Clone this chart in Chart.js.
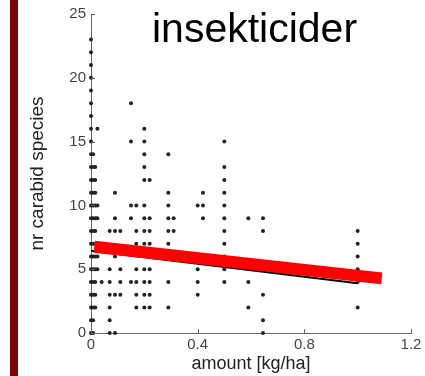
<!DOCTYPE html>
<html>
<head>
<meta charset="utf-8">
<script src="https://cdn.jsdelivr.net/npm/chart.js@4/dist/chart.umd.min.js"></script>
<style>
    body { margin: 0; background: #fff; }
    #wrap { position: relative; width: 425px; height: 376px; }
    #sideBar { position: absolute; left: 10px; top: 0; width: 8px; height: 376px; background: #7d0505; }
    canvas { position: absolute; left: 0; top: 0; }
</style>
</head>
<body>
<div id="wrap">
    <canvas id="chart" width="425" height="376"></canvas>
    <div id="sideBar"></div>
</div>
<script>
// Amount levels (kg/ha) and the species counts found at each level
const amountLevels = [0, 0.008, 0.016, 0.024, 0.04, 0.07, 0.09, 0.11, 0.15, 0.17, 0.2, 0.22, 0.29, 0.31, 0.4, 0.42, 0.5, 0.59, 0.645, 1.0];
const speciesAtLevel = [
    [0, 1, 2, 3, 4, 5, 6, 7, 8, 9, 10, 11, 12, 13, 14, 15, 16, 17, 18, 19, 20, 21, 22, 23],
    [0, 1, 2, 3, 4, 5, 6, 7, 8, 9, 10, 11, 12, 13, 14],
    [2, 3, 4, 5, 6, 8, 9, 10, 11, 12, 13],
    [5, 6, 9, 10, 16],
    [4],
    [0, 1, 2, 3, 4, 5, 8],
    [0, 3, 6, 8, 9, 11],
    [3, 4, 5, 8],
    [4, 9, 10, 15, 18],
    [2, 3, 4, 5, 7, 8, 10],
    [2, 3, 4, 5, 7, 8, 9, 10, 12, 13, 14, 15, 16],
    [2, 3, 4, 5, 7, 8, 9, 12],
    [2, 4, 7, 8, 9, 10, 11, 14],
    [8, 9],
    [3, 4, 5, 10],
    [9, 10, 11],
    [4, 5, 6, 7, 8, 9, 10, 11, 12, 13, 15],
    [2, 4, 9],
    [0, 1, 3, 8, 9],
    [2, 4, 5, 6, 7, 8]
];

// regression line (black) and the red highlight drawn over it
const fitX = [0, 1.0];
const fitY = [6.45, 3.9];
const markX = [0.012, 1.09];
const markY = [6.76, 4.28];

// tick labels
const xTicks = [0, 0.4, 0.8, 1.2];
const yTicks = [0, 5, 10, 15, 20, 25];

const titleText = 'insekticider';

document.addEventListener('DOMContentLoaded', function() {
    const points = [];
    amountLevels.forEach(function(a, i) {
        speciesAtLevel[i].forEach(function(s) {
            points.push({ x: a, y: s });
        });
    });

    const toXY = (xs, ys) => xs.map((x, i) => ({ x: x, y: ys[i] }));

    // ticks pointing into the plot, plus the big title
    const decorations = {
        id: 'decorations',
        afterDraw(chart) {
            const ctx = chart.ctx;
            const xs = chart.scales.x;
            const ys = chart.scales.y;
            const area = chart.chartArea;
            ctx.save();
            ctx.strokeStyle = '#666';
            ctx.lineWidth = 1;
            ctx.beginPath();
            xTicks.forEach(function(v) {
                const px = Math.round(xs.getPixelForValue(v)) + 0.5;
                ctx.moveTo(px, area.bottom);
                ctx.lineTo(px, area.bottom - 4);
            });
            yTicks.forEach(function(v) {
                const py = Math.round(ys.getPixelForValue(v)) + 0.5;
                ctx.moveTo(area.left, py);
                ctx.lineTo(area.left + 4, py);
            });
            ctx.stroke();

            ctx.fillStyle = '#000';
            ctx.font = '41px "Liberation Sans", Arial, sans-serif';
            ctx.textBaseline = 'alphabetic';
            ctx.textAlign = 'left';
            ctx.fillText(titleText, 152, 42);
            ctx.restore();
        }
    };

    new Chart(document.getElementById('chart'), {
        type: 'scatter',
        data: {
            datasets: [{
                type: 'line',
                data: toXY(markX, markY),
                borderColor: '#ff0000',
                borderWidth: 12,
                borderCapStyle: 'butt',
                pointRadius: 0,
                fill: false,
                clip: false,
                order: 0
            }, {
                type: 'line',
                data: toXY(fitX, fitY),
                borderColor: '#000',
                borderWidth: 2,
                pointRadius: 0,
                fill: false,
                clip: false,
                order: 1
            }, {
                data: points,
                backgroundColor: '#222',
                borderWidth: 0,
                pointRadius: 2,
                clip: false,
                order: 2
            }]
        },
        options: {
            responsive: false,
            animation: false,
            layout: { padding: { top: 14, right: 14, left: 0, bottom: 0 } },
            plugins: {
                legend: { display: false },
                tooltip: { enabled: false }
            },
            scales: {
                x: {
                    type: 'linear',
                    min: 0,
                    max: 1.2,
                    afterBuildTicks: function(scale) {
                        scale.ticks = xTicks.map(v => ({ value: v }));
                    },
                    afterFit: function(scale) { scale.height = 43; },
                    grid: { display: false, drawTicks: false },
                    border: { display: true, color: '#666', width: 1 },
                    ticks: {
                        padding: 3,
                        maxRotation: 0,
                        color: '#444',
                        font: { family: '"Liberation Sans", Arial, sans-serif', size: 15 }
                    },
                    title: {
                        display: true,
                        text: 'amount [kg/ha]',
                        color: '#222',
                        padding: { top: 0, bottom: 1 },
                        font: { family: '"Liberation Sans", Arial, sans-serif', size: 18 }
                    }
                },
                y: {
                    type: 'linear',
                    min: 0,
                    max: 25,
                    afterBuildTicks: function(scale) {
                        scale.ticks = yTicks.map(v => ({ value: v }));
                    },
                    afterFit: function(scale) { scale.width = 91; },
                    grid: { display: false, drawTicks: false },
                    border: { display: true, color: '#666', width: 1 },
                    ticks: {
                        padding: 5,
                        color: '#444',
                        font: { family: '"Liberation Sans", Arial, sans-serif', size: 15 }
                    },
                    title: {
                        display: true,
                        text: 'nr carabid species',
                        color: '#222',
                        padding: { top: 26, bottom: 0 },
                        font: { family: '"Liberation Sans", Arial, sans-serif', size: 19 }
                    }
                }
            }
        },
        plugins: [decorations]
    });
});
</script>
</body>
</html>
